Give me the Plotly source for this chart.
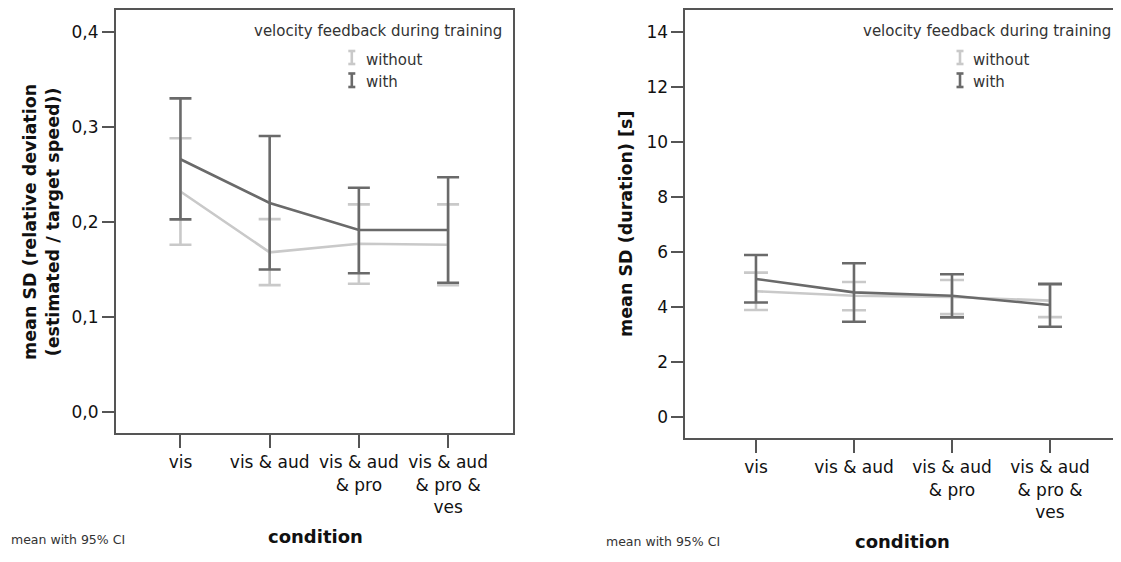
import plotly.graph_objects as go

# ---------------- data ----------------
conditions = ["vis", "vis & aud", "vis & aud<br>& pro", "vis & aud<br>& pro &<br>ves"]
series_names = ["without", "with"]

# left chart: mean SD (relative deviation)
rel_without_mean = [0.232, 0.168, 0.177, 0.176]
rel_without_low = [0.176, 0.1335, 0.135, 0.1335]
rel_without_high = [0.288, 0.203, 0.2185, 0.2185]
rel_with_mean = [0.266, 0.220, 0.1915, 0.1915]
rel_with_low = [0.2027, 0.150, 0.146, 0.136]
rel_with_high = [0.330, 0.2905, 0.236, 0.247]

# right chart: mean SD (duration) [s]
dur_without_mean = [4.56, 4.40, 4.35, 4.22]
dur_without_low = [3.88, 3.87, 3.73, 3.62]
dur_without_high = [5.24, 4.90, 4.97, 4.80]
dur_with_mean = [5.01, 4.52, 4.40, 4.06]
dur_with_low = [4.15, 3.45, 3.61, 3.27]
dur_with_high = [5.88, 5.58, 5.18, 4.83]

rel_ticks = [0.0, 0.1, 0.2, 0.3, 0.4]
dur_ticks = [0, 2, 4, 6, 8, 10, 12, 14]

# ---------------- style ----------------
OFF = 8  # default page body margin
W, H = 1121 - OFF, 562 - OFF
FONT = "DejaVu Sans"
C_WITHOUT = "#c9c9c9"
C_WITH = "#6a6a6a"
AXIS_C = "#555555"


def px(x):
    return (x - OFF) / W


def py(y):
    return 1 - (y - OFF) / H


def trace(means, lows, highs, color, xa, ya, capw, name):
    plus = [h - m for h, m in zip(highs, means)]
    minus = [m - l for m, l in zip(means, lows)]
    return go.Scatter(
        x=conditions, y=means, mode="lines", name=name,
        line=dict(color=color, width=2.6),
        error_y=dict(type="data", array=plus, arrayminus=minus, color=color,
                     thickness=2.6, width=capw, visible=True),
        xaxis=xa, yaxis=ya, showlegend=False, hoverinfo="skip",
    )


fig = go.Figure()
fig.add_trace(trace(rel_without_mean, rel_without_low, rel_without_high, C_WITHOUT, "x", "y", 11, series_names[0]))
fig.add_trace(trace(rel_with_mean, rel_with_low, rel_with_high, C_WITH, "x", "y", 11, series_names[1]))
fig.add_trace(trace(dur_without_mean, dur_without_low, dur_without_high, C_WITHOUT, "x2", "y2", 12, series_names[0]))
fig.add_trace(trace(dur_with_mean, dur_with_low, dur_with_high, C_WITH, "x2", "y2", 12, series_names[1]))

tickfont = dict(family=FONT, size=17, color="#111111")
common_x = dict(type="category", categoryorder="array", categoryarray=conditions,
                showgrid=False, zeroline=False, showline=True, linecolor=AXIS_C, linewidth=1.5,
                mirror=True, ticks="outside", ticklen=13, tickwidth=1.5, tickcolor=AXIS_C,
                tickfont=tickfont, fixedrange=True)
common_y = dict(showgrid=False, zeroline=False, showline=True, linecolor=AXIS_C, linewidth=1.5,
                mirror=True, ticks="outside", ticklen=12, tickwidth=1.5, tickcolor=AXIS_C,
                tickfont=tickfont, fixedrange=True)

fig.update_layout(
    width=W, height=H, autosize=False,
    margin=dict(l=0, r=0, t=0, b=0, pad=0),
    paper_bgcolor="white", plot_bgcolor="white",
    separators=",.",
    font=dict(family=FONT, color="#111111"),
    xaxis=dict(common_x, domain=[px(115.7), px(513.2)], range=[-0.726, 3.73], anchor="y"),
    yaxis=dict(common_y, domain=[py(433.3), py(10)], range=[-0.0224, 0.423],
               tickvals=rel_ticks, tickformat=".1f", anchor="x"),
    xaxis2=dict(common_x, domain=[px(685.2), px(1119.3)], range=[-0.722, 3.707], anchor="y2"),
    yaxis2=dict(common_y, domain=[py(438.3), py(10)], range=[-0.786, 14.79],
                tickvals=dur_ticks, anchor="x2"),
)

ann = []
legend_font = dict(family=FONT, size=15, color="#333333")
for (title_right, text_left) in [(503.6, 363.6), (1112.8, 971.4)]:
    ann.append(dict(x=px(title_right), y=py(30.7), xref="paper", yref="paper", xanchor="right",
                    yanchor="middle", text="velocity feedback during training", showarrow=False,
                    font=legend_font))
    ann.append(dict(x=px(text_left), y=py(60), xref="paper", yref="paper", xanchor="left",
                    yanchor="middle", text=series_names[0], showarrow=False, font=legend_font))
    ann.append(dict(x=px(text_left), y=py(82), xref="paper", yref="paper", xanchor="left",
                    yanchor="middle", text=series_names[1], showarrow=False, font=legend_font))

title_font = dict(family=FONT, size=17.5, color="#111111")
ann.append(dict(x=px(42), y=py(222), xref="paper", yref="paper", xanchor="center", yanchor="middle",
                textangle=-90, showarrow=False, font=title_font,
                text="<b>mean SD (relative deviation<br>(estimated / target speed))</b>"))
ann.append(dict(x=px(626), y=py(224), xref="paper", yref="paper", xanchor="center", yanchor="middle",
                textangle=-90, showarrow=False, font=title_font,
                text="<b>mean SD (duration) [s]</b>"))

cond_font = dict(family=FONT, size=18, color="#111111")
ann.append(dict(x=px(315), y=py(536.7), xref="paper", yref="paper", xanchor="center", yanchor="middle",
                showarrow=False, font=cond_font, text="<b>condition</b>"))
ann.append(dict(x=px(902.7), y=py(541.7), xref="paper", yref="paper", xanchor="center", yanchor="middle",
                showarrow=False, font=cond_font, text="<b>condition</b>"))

note_font = dict(family=FONT, size=12.5, color="#333333")
ann.append(dict(x=px(8.5), y=py(539), xref="paper", yref="paper", xanchor="left", yanchor="middle",
                showarrow=False, font=note_font, text="mean with 95% CI"))
ann.append(dict(x=px(603.6), y=py(541), xref="paper", yref="paper", xanchor="left", yanchor="middle",
                showarrow=False, font=note_font, text="mean with 95% CI"))
fig.update_layout(annotations=ann)

# legend icons (small error-bar glyphs)
shapes = []
for cx in [351.8, 960.0]:
    for (y0, y1, col) in [(51, 64, C_WITHOUT), (73.5, 87, C_WITH)]:
        for seg in [((cx, y0), (cx, y1)), ((cx - 3.5, y0), (cx + 3.5, y0)), ((cx - 3.5, y1), (cx + 3.5, y1))]:
            (xa, ya), (xb, yb) = seg
            shapes.append(dict(type="line", xref="paper", yref="paper",
                               x0=px(xa), y0=py(ya), x1=px(xb), y1=py(yb),
                               line=dict(color=col, width=2.6)))
fig.update_layout(shapes=shapes)

fig.write_html("out.html")
